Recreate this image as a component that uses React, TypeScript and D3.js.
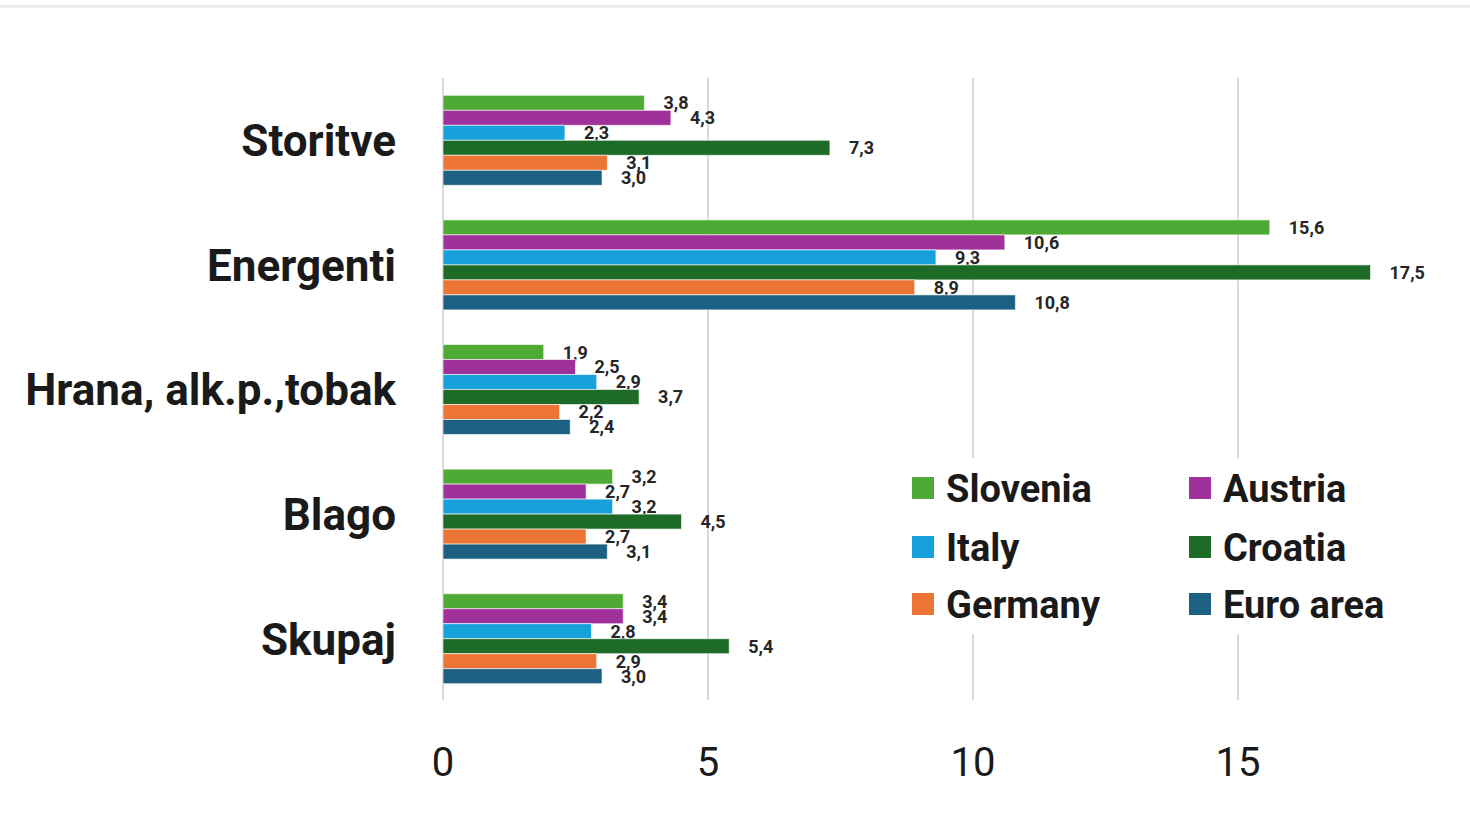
import React from "react";
import * as d3 from "d3";

const categories = ["Storitve", "Energenti", "Hrana, alk.p.,tobak", "Blago", "Skupaj"];
const seriesNames = ["Slovenia", "Austria", "Italy", "Croatia", "Germany", "Euro area"];
const seriesColors = ["#4FAA35", "#A0309A", "#17A1DA", "#1E6B28", "#EC7434", "#1D6083"];

// values per series, ordered as categories
const slovenia = [3.8, 15.6, 1.9, 3.2, 3.4];
const austria = [4.3, 10.6, 2.5, 2.7, 3.4];
const italy = [2.3, 9.3, 2.9, 3.2, 2.8];
const croatia = [7.3, 17.5, 3.7, 4.5, 5.4];
const germany = [3.1, 8.9, 2.2, 2.7, 2.9];
const euroArea = [3.0, 10.8, 2.4, 3.1, 3.0];
const seriesValues = [slovenia, austria, italy, croatia, germany, euroArea];

const xTicks = [0, 5, 10, 15];

const W = 1470;
const H = 817;

export default function App() {
  const x = d3.scaleLinear().domain([0, 15]).range([443, 1238]);
  const y = d3
    .scaleBand<string>()
    .domain(categories)
    .range([78, 701])
    .paddingInner(0.278)
    .paddingOuter(0.139);
  const inner = d3
    .scaleBand<string>()
    .domain(seriesNames)
    .range([0, y.bandwidth()]);

  const fmt = (v: number) => v.toFixed(1).replace(".", ",");

  return (
    <svg
      width={W}
      height={H}
      style={{ position: "absolute", left: 0, top: 0, background: "#fff" }}
      fontFamily="Roboto, 'Open Sans', sans-serif"
    >
      <rect x={0} y={0} width={W} height={H} fill="#fff" />
      <rect x={0} y={5} width={W} height={3} fill="#ececec" />

      {/* vertical gridlines */}
      {xTicks.map((t) => (
        <line
          key={"g" + t}
          x1={x(t)}
          x2={x(t)}
          y1={78}
          y2={700}
          stroke="#d9d9d9"
          strokeWidth={2}
        />
      ))}

      {/* bars */}
      {categories.map((c, ci) => (
        <g key={c} transform={`translate(0,${y(c)})`}>
          {seriesNames.map((s, si) => {
            const v = seriesValues[si][ci];
            const by = inner(s)!;
            return (
              <g key={s}>
                <rect
                  x={x(0)}
                  y={by}
                  width={x(v) - x(0)}
                  height={inner.bandwidth()}
                  fill={seriesColors[si]}
                  stroke="#ffffff"
                  strokeOpacity={0.6}
                  strokeWidth={1}
                />
                <text
                  x={x(v) + 19}
                  y={by + inner.bandwidth() / 2}
                  dy="0.36em"
                  fontSize={18}
                  fontWeight={700}
                  fill="#262626"
                >
                  {fmt(v)}
                </text>
              </g>
            );
          })}
        </g>
      ))}

      {/* category labels */}
      {categories.map((c) => (
        <text
          key={"l" + c}
          x={396}
          y={y(c)! + y.bandwidth() / 2}
          dy="0.36em"
          textAnchor="end"
          fontSize={44}
          fontWeight={700}
          fill="#1a1a1a"
        >
          {c}
        </text>
      ))}

      {/* x axis tick labels */}
      {xTicks.map((t) => (
        <text
          key={"t" + t}
          x={x(t)}
          y={762}
          dy="0.36em"
          textAnchor="middle"
          fontSize={40}
          fill="#1a1a1a"
        >
          {t}
        </text>
      ))}

      {/* legend */}
      <rect x={898} y={458} width={520} height={176} fill="#fff" />
      {seriesNames.map((s, i) => {
        const col = i % 2;
        const row = Math.floor(i / 2);
        const lx = col === 0 ? 912 : 1189;
        const ly = [488, 547, 604][row];
        return (
          <g key={"lg" + s}>
            <rect x={lx} y={ly - 11} width={22} height={22} fill={seriesColors[i]} />
            <text
              x={lx + 34}
              y={ly}
              dy="0.36em"
              fontSize={38}
              fontWeight={700}
              fill="#1a1a1a"
            >
              {s}
            </text>
          </g>
        );
      })}
    </svg>
  );
}
